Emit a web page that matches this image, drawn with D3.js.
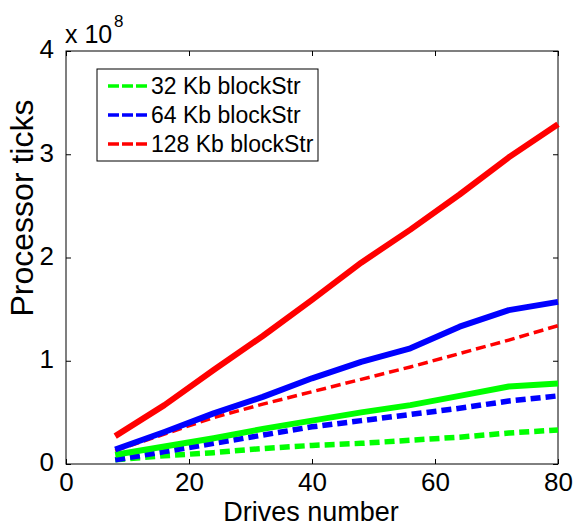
<!DOCTYPE html>
<html>
<head>
<meta charset="utf-8">
<script src="https://cdn.jsdelivr.net/npm/d3@7"></script>
<style>
html,body{margin:0;padding:0;background:#fff;}
svg{display:block;font-family:"Liberation Sans",Arial,sans-serif;}
</style>
</head>
<body>
<svg id="chart" width="575" height="527"></svg>
<script>
// ---- data ----
const drives = [8, 16, 24, 32, 40, 48, 56, 64, 72, 80];
// values in units of 1e8 processor ticks
const dashed32  = [0.04, 0.08, 0.11, 0.15, 0.18, 0.20, 0.23, 0.26, 0.30, 0.33];
const dashed64  = [0.04, 0.12, 0.20, 0.28, 0.36, 0.42, 0.48, 0.54, 0.61, 0.66];
const dashed128 = [0.13, 0.29, 0.45, 0.58, 0.70, 0.82, 0.94, 1.07, 1.20, 1.34];
const solid32   = [0.09, 0.17, 0.25, 0.34, 0.42, 0.50, 0.57, 0.66, 0.75, 0.78];
const solid64   = [0.14, 0.31, 0.49, 0.65, 0.83, 0.99, 1.12, 1.33, 1.49, 1.57];
const solid128  = [0.27, 0.57, 0.91, 1.24, 1.59, 1.95, 2.27, 2.61, 2.97, 3.29];
const xTicks = [0, 20, 40, 60, 80];
const yTicks = [0, 1, 2, 3, 4];
const legendLabels = ["32 Kb blockStr", "64 Kb blockStr", "128 Kb blockStr"];
const colors = ["#00ff00", "#0000ff", "#ff0000"];

const svg = d3.select("#chart");
const L = 66, R = 558, T = 51, B = 464;
const x = d3.scaleLinear().domain([0, 80]).range([L, R]);
const y = d3.scaleLinear().domain([0, 4]).range([B, T]);

// axes box
svg.append("rect").attr("x", L).attr("y", T).attr("width", R - L).attr("height", B - T)
  .attr("fill", "none").attr("stroke", "#000").attr("stroke-width", 1);

// ticks (inward, mirrored)
const tl = 5;
const gb = svg.append("g").attr("transform", `translate(0,${B})`)
  .call(d3.axisBottom(x).tickValues(xTicks).tickSize(-tl).tickPadding(9).tickFormat(d3.format("d")));
const gt = svg.append("g").attr("transform", `translate(0,${T})`)
  .call(d3.axisTop(x).tickValues(xTicks).tickSize(-tl).tickFormat(""));
const gl = svg.append("g").attr("transform", `translate(${L},0)`)
  .call(d3.axisLeft(y).tickValues(yTicks).tickSize(-tl).tickPadding(12).tickFormat(d3.format("d")));
const gr = svg.append("g").attr("transform", `translate(${R},0)`)
  .call(d3.axisRight(y).tickValues(yTicks).tickSize(-tl).tickFormat(""));
[gb, gt, gl, gr].forEach(g => {
  g.select(".domain").remove();
  g.selectAll("line").attr("stroke", "#000");
  g.selectAll("text").attr("fill", "#000").style("font-family", "'Liberation Sans', Arial, sans-serif").style("font-size", "26px");
});
gb.selectAll("text").attr("dy", "0.71em");
gl.selectAll("text").attr("dy", "0.26em");

// exponent label
svg.append("text").attr("x", 65).attr("y", 43).attr("fill", "#000").style("font-size", "25px").text("x 10");
svg.append("text").attr("x", 114).attr("y", 27).attr("fill", "#000").style("font-size", "17px").text("8");

// axis labels
svg.append("text").attr("x", 311).attr("y", 521.3).attr("text-anchor", "middle")
  .attr("fill", "#000").style("font-size", "27px").text("Drives number");
svg.append("text").attr("transform", "translate(33,208) rotate(-90)").attr("text-anchor", "middle")
  .attr("fill", "#000").style("font-size", "32px").text("Processor ticks");

// lines
const line = d3.line().x((d, i) => x(drives[i])).y(d => y(d));
const series = [
  {v: dashed32, c: colors[0], dash: true, w: 5.5},
  {v: dashed64, c: colors[1], dash: true, w: 5.5},
  {v: dashed128, c: colors[2], dash: true, w: 3.5},
  {v: solid32, c: colors[0], dash: false, w: 6},
  {v: solid64, c: colors[1], dash: false, w: 6},
  {v: solid128, c: colors[2], dash: false, w: 6}
];
svg.append("g").selectAll("path").data(series).join("path")
  .attr("d", d => line(d.v))
  .attr("fill", "none")
  .attr("stroke", d => d.c)
  .attr("stroke-width", d => d.w)
  .attr("stroke-dasharray", d => d.dash ? "10,5" : null)
  .attr("stroke-linejoin", "round");

// legend
const lg = svg.append("g");
lg.append("rect").attr("x", 97).attr("y", 69).attr("width", 221).attr("height", 92)
  .attr("fill", "#fff").attr("stroke", "#000").attr("stroke-width", 1);
legendLabels.forEach((lab, i) => {
  const yy = 86 + i * 29;
  lg.append("line").attr("x1", 108).attr("x2", 147).attr("y1", yy).attr("y2", yy)
    .attr("stroke", colors[i]).attr("stroke-width", 3.5).attr("stroke-dasharray", "11,3");
  lg.append("text").attr("x", 151).attr("y", yy + 8).attr("fill", "#000")
    .style("font-size", "23px").text(lab);
});
</script>
</body>
</html>
